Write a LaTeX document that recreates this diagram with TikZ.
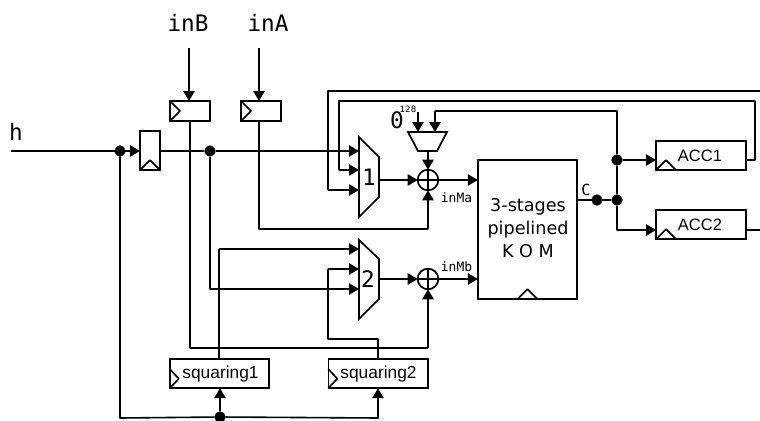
\documentclass[tikz,border=0pt]{standalone}
\usepackage{fontspec}
\setmainfont{Liberation Sans}
\newfontfamily\dvs{DejaVu Sans}
\newfontfamily\dvm{DejaVu Sans Mono}
\usetikzlibrary{arrows.meta,calc}
\tikzset{
  wire/.style={line width=1.2pt,line join=round},
  arr/.style={wire,-{Triangle[length=7.5pt,width=8.5pt]}},
  box/.style={draw,line width=1.25pt,inner sep=0pt,outer sep=0pt,fill=white},
  jdot/.style={circle,fill=black,inner sep=0pt,minimum size=8.5pt,outer sep=0pt},
  xorgate/.style={circle,draw,line width=1.3pt,minimum size=15.5pt,inner sep=0pt,outer sep=0pt},
  monolab/.style={font=\dvm\fontsize{17}{17}\selectfont,inner sep=0pt},
  smalllab/.style={font=\dvm\fontsize{9.7}{10}\selectfont,inner sep=0pt},
  sanslab/.style={font=\fontsize{12.4}{13}\selectfont,inner sep=0pt},
  clockmark/.style={line width=1.25pt,line join=round},
  gate/.style={line width=1.3pt,line join=miter}
}
\begin{document}
\begin{tikzpicture}[x=0.75pt,y=-0.75pt]
\useasboundingbox (0,0) rectangle (760,421);

% coordinates
\coordinate (hin) at (11,151);
\coordinate (bt) at (189,48);
\coordinate (at) at (259,48);
\coordinate (Aout) at (760,230);
\coordinate (Bout) at (746,160);
\coordinate (outerR) at (760,91);
\coordinate (innerR) at (755,101);

% registers
\node[box,minimum width=15pt,minimum height=29.5pt] (hreg) at (150,150.5) {};
\node[box,minimum width=30pt,minimum height=15pt] (regB) at (190,111) {};
\node[box,minimum width=30pt,minimum height=15pt] (regA) at (261,111) {};
\draw[clockmark] (regB.north west) -- ++(10,10) -- (regB.south west);
\draw[clockmark] (regA.north west) -- ++(10,10) -- (regA.south west);
\draw[clockmark] (hreg.south west) -- ++(10,-10) -- (hreg.south east);

% accumulators
\node[box,minimum width=67.5pt,minimum height=22pt] (acc1) at (701,155.5) {};
\node[box,minimum width=67.5pt,minimum height=22pt] (acc2) at (701,224.5) {};
\draw[clockmark] (acc1.south west) -- ++(10,-10) -- ++(10,10);
\draw[clockmark] (acc2.south west) -- ++(10,-10) -- ++(10,10);
\node[sanslab] (acc1t) at (700,156) {ACC1};
\node[sanslab] (acc2t) at (700,225) {ACC2};

% squaring
\node[box,minimum width=74.5pt,minimum height=22pt] (sq1) at (219.5,373.5) {};
\node[box,minimum width=74.5pt,minimum height=22pt] (sq2) at (378,373.5) {};
\draw[clockmark] ($(sq1.south west)+(0,-19)$) -- ++(9,9.5) -- (sq1.south west);
\draw[clockmark] ($(sq2.south west)+(0,-19)$) -- ++(9,9.5) -- (sq2.south west);
\node[sanslab,font=\fontsize{13}{13}\selectfont] (sq1t) at (220.5,374) {squaring1};
\node[sanslab,font=\fontsize{13}{13}\selectfont] (sq2t) at (378.5,374) {squaring2};

% KOM
\node[box,minimum width=74.5pt,minimum height=104.5pt] (kom) at (527.5,229.5) {};
\draw[clockmark] ($(kom.south)+(-10,0)$) -- ++(10,-10) -- ++(10,10);
\node[font=\dvs\fontsize{13.2}{17.3}\selectfont,align=center,inner sep=0pt] (komt) at (528,228) {3-stages\\pipelined\\K O M};

% muxes
\draw[gate] (359,137) -- (379,157) -- (379,197) -- (359,217) -- cycle;
\draw[gate] (359,240) -- (379,259) -- (379,299) -- (359,319) -- cycle;
\coordinate (m1o) at (379,180);
\coordinate (m2o) at (379,279);
\coordinate (m1a) at (359,151);
\coordinate (m1b) at (359,170);
\coordinate (m1c) at (359,190);
\coordinate (m2a) at (359,249);
\coordinate (m2b) at (359,269);
\coordinate (m2c) at (359,289);
\node[monolab] (m1t) at (369,177) {1};
\node[monolab] (m2t) at (368,279) {2};

% trapezoid
\draw[gate] (408,132) -- (447,132) -- (437,151) -- (418,151) -- cycle;
\coordinate (tb) at (428,151);
\coordinate (ta) at (418,132);
\coordinate (tc) at (435,132);
\coordinate (ts) at (418,112);

% xors
\node[xorgate] (x1) at (428,180) {};
\node[xorgate] (x2) at (428,279) {};
\draw[line width=1.2pt] (x1.north) -- (x1.south) (x1.west) -- (x1.east);
\draw[line width=1.2pt] (x2.north) -- (x2.south) (x2.west) -- (x2.east);

% dots
\node[jdot] (dh) at (120,151) {};
\node[jdot] (dm) at (210,151) {};
\node[jdot] (dc) at (597,200) {};
\node[jdot] (dj) at (617,200) {};
\node[jdot] (da) at (617,160) {};
\node[jdot] (db) at (220,417) {};

% connectors
\draw[arr] (hin) -- (hreg.west |- hin);
\draw[arr] (bt) -- (bt |- regB.north);
\draw[arr] (at) -- (at |- regA.north);
\draw[wire] (hreg.east |- dm) -- (dm);
\draw[arr] (dm) -- (m1a);
\draw[arr] (dm) -- (dm |- m2c) -- (m2c);
\draw[wire] (190,121) -- (190,348) -- (428,348);
\draw[arr] (428,348) -- (x2.south);
\draw[wire] (259,121) -- (259,229) -- (428,229);
\draw[arr] (428,229) -- (x1.south);
\draw[arr] (m1o) -- (x1.west);
\draw[arr] (m2o) -- (x2.west);
\draw[arr] (x1.east) -- (kom.west |- x1);
\draw[arr] (x2.east) -- (kom.west |- x2);
\draw[arr] (tb) -- (x1.north);
\draw[arr] (ts) -- (ta);
\draw[wire] (kom.east |- dc) -- (dj);
\draw[wire] (dj) -- (da);
\draw[arr] (da) -- (acc1.west |- da);
\draw[wire] (da) -- (617,111) -- (435,111);
\draw[arr] (435,111) -- (tc);
\draw[arr] (dj) -- (617,230) -- (acc2.west |- Aout);
\draw[wire] (acc2.east |- Aout) -- (Aout);
\draw[wire] (Bout) -- (755,160) -- (innerR) -- (339,101) -- (339,170);
\draw[arr] (339,170) -- (m1b);
\draw[wire] (outerR) -- (328,91) -- (328,190);
\draw[arr] (328,190) -- (m1c);
\draw[wire] (219,359) -- (219,249);
\draw[arr] (219,249) -- (m2a);
\draw[wire] (sq2.north) -- (378,339) -- (328,339) -- (328,269);
\draw[arr] (328,269) -- (m2b);
\draw[wire] (dh) -- (120,418) -- (db);
\draw[arr] (db) -- (sq1.south -| db);
\draw[arr] (db) -- (378,418) -- (sq2.south);

% labels
\node[monolab] (lh) at (16,132) {h};
\node[monolab] (lb) at (188,23) {inB};
\node[monolab] (la) at (268,23) {inA};
\node[monolab] (l0) at (397,120) {0};
\node[font=\dvs\fontsize{6.5}{7}\selectfont,inner sep=0pt] (l128) at (408,109) {128};
\node[smalllab] (lma) at (456.5,198) {inMa};
\node[smalllab] (lmb) at (456.5,267) {inMb};
\node[font=\dvm\fontsize{11.5}{11}\selectfont,inner sep=0pt] (lc) at (586,190) {C};
\end{tikzpicture}
\end{document}
